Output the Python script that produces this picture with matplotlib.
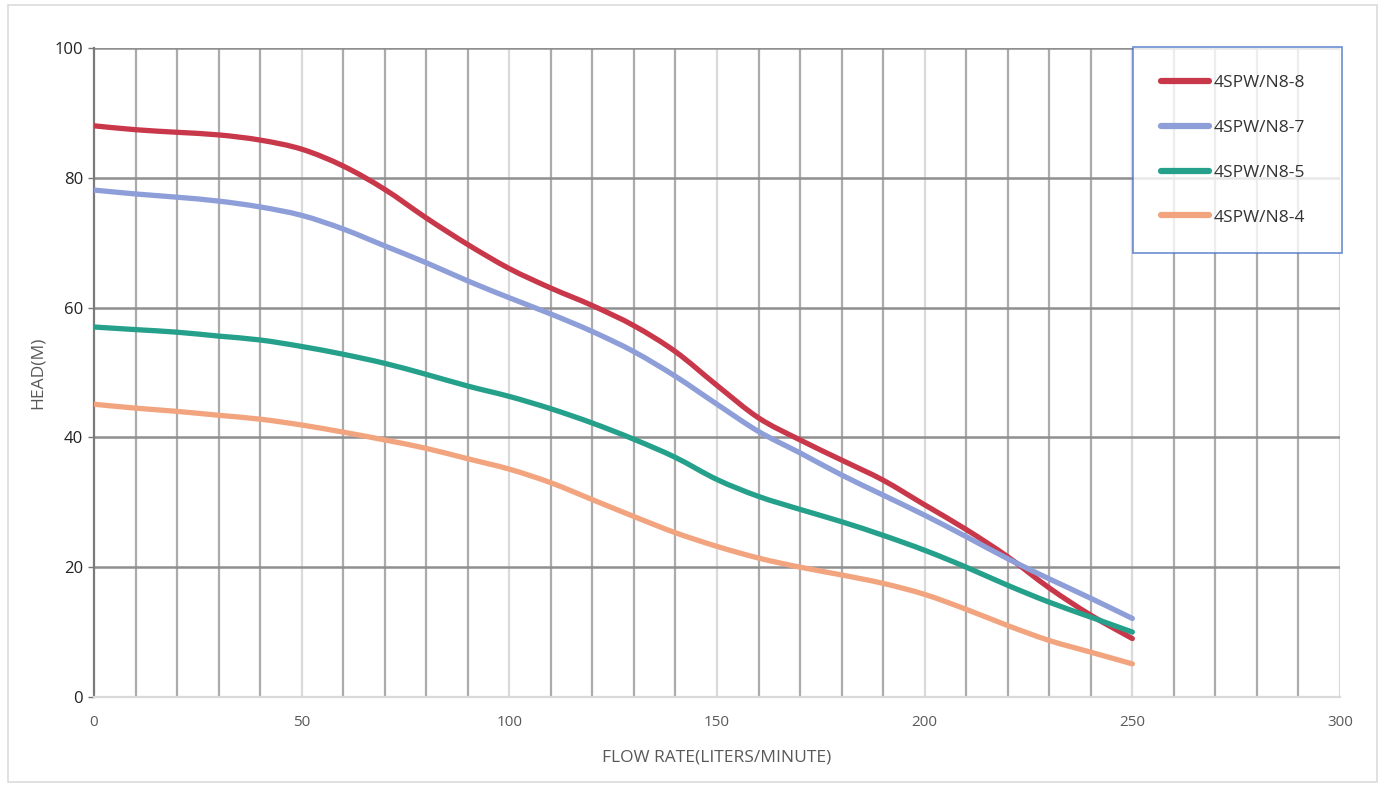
import matplotlib
matplotlib.use("Agg")
import matplotlib.pyplot as plt
from matplotlib.patches import Rectangle, PathPatch
from matplotlib.path import Path
from matplotlib.lines import Line2D

plt.rcParams['font.family'] = ['Open Sans', 'DejaVu Sans']

# flow rate (liters/minute)
flow = [0, 10, 20, 30, 40, 50, 60, 70, 80, 90, 100, 110, 120, 130,
        140, 150, 160, 170, 180, 190, 200, 210, 220, 230, 240, 250]

# head (m) per model
head_n8_8 = [88.0, 87.4, 87.0, 86.6, 85.8, 84.4, 81.8, 78.2, 73.8, 69.7, 66.0, 63.0, 60.3, 57.2,
             53.2, 48.0, 43.0, 39.6, 36.5, 33.4, 29.6, 25.8, 21.6, 16.8, 12.6, 9.0]
head_n8_7 = [78.1, 77.5, 77.0, 76.4, 75.5, 74.2, 72.1, 69.5, 66.9, 64.1, 61.5, 59.0, 56.3, 53.2,
             49.4, 45.1, 40.9, 37.6, 34.2, 31.1, 28.0, 24.7, 21.3, 18.2, 15.2, 12.1]
head_n8_5 = [57.0, 56.6, 56.2, 55.6, 55.0, 54.0, 52.8, 51.4, 49.7, 47.9, 46.3, 44.4, 42.2, 39.7,
             36.9, 33.5, 30.9, 28.9, 27.0, 24.9, 22.6, 20.0, 17.2, 14.6, 12.3, 10.0]
head_n8_4 = [45.1, 44.5, 44.0, 43.4, 42.8, 41.9, 40.8, 39.6, 38.3, 36.7, 35.1, 33.0, 30.4, 27.8,
             25.3, 23.2, 21.4, 20.0, 18.8, 17.5, 15.8, 13.5, 11.0, 8.7, 6.9, 5.1]

labels = ['4SPW/N8-8', '4SPW/N8-7', '4SPW/N8-5', '4SPW/N8-4']
colors = ['#c8384a', '#8e9ed9', '#24a08b', '#f2a47f']


def smooth_path(xs, ys):
    # excel-like smoothed line: bezier segments through the data points
    pts = list(zip(xs, ys))
    verts = [pts[0]]
    codes = [Path.MOVETO]
    n = len(pts)
    for i in range(n - 1):
        p0 = pts[max(i - 1, 0)]
        p1 = pts[i]
        p2 = pts[i + 1]
        p3 = pts[min(i + 2, n - 1)]
        c1 = (p1[0] + (p2[0] - p0[0]) / 6, p1[1] + (p2[1] - p0[1]) / 6)
        c2 = (p2[0] - (p3[0] - p1[0]) / 6, p2[1] - (p3[1] - p1[1]) / 6)
        verts += [c1, c2, p2]
        codes += [Path.CURVE4] * 3
    return Path(verts, codes)


fig = plt.figure(figsize=(13.85, 7.87), dpi=100)
fig.patches.append(Rectangle((0.006, 0.006), 0.988, 0.988, transform=fig.transFigure,
                             fill=False, edgecolor='#dcdcdc', linewidth=1.2))

ax = fig.add_axes([0.0679, 0.1144, 0.8996, 0.8247])

# grid: every 10 on x (multiples of 50 lighter), every 20 on y
for xv in range(10, 301, 10):
    c = '#dadada' if xv % 50 == 0 else '#ababab'
    ax.axvline(xv, color=c, linewidth=1.6, zorder=1)
for yv in range(20, 101, 20):
    ax.axhline(yv, color='#8f8f8f', linewidth=1.8, zorder=1)

handles = []
for ys, lab, col in zip([head_n8_8, head_n8_7, head_n8_5, head_n8_4], labels, colors):
    ax.add_patch(PathPatch(smooth_path(flow, ys), facecolor='none', edgecolor=col,
                           linewidth=3.8, capstyle='round', zorder=3))
    handles.append(Line2D([], [], color=col, linewidth=4.5, solid_capstyle='round', label=lab))

ax.set_xlim(0, 300)
ax.set_ylim(0, 100)
ax.set_xticks(range(0, 301, 50))
ax.set_yticks(range(0, 101, 20))
ax.tick_params(axis='x', length=0, pad=13, labelsize=11, labelcolor='#595959')
ax.tick_params(axis='y', length=4, width=1, color='#777777', pad=4, labelsize=12, labelcolor='#222222')

for s in ['top', 'right']:
    ax.spines[s].set_visible(False)
ax.spines['left'].set_color('#7a7a7a')
ax.spines['left'].set_linewidth(1.6)
ax.spines['bottom'].set_color('#d9d9d9')
ax.spines['bottom'].set_linewidth(1.6)

ax.set_xlabel('FLOW RATE(LITERS/MINUTE)', fontsize=12.5, color='#595959', labelpad=14)
ax.set_ylabel('HEAD(M)', fontsize=12.5, color='#595959', labelpad=6)

leg = ax.legend(handles=handles, loc='upper left', bbox_to_anchor=(0.818, 0.940, 0.151, 0.0),
                bbox_transform=fig.transFigure, mode='expand', borderaxespad=0,
                fontsize=12.5, frameon=True, fancybox=False, handlelength=2.8,
                handletextpad=0.25, labelspacing=1.65, borderpad=1.6)
leg.get_frame().set_edgecolor('#4472c4')
leg.get_frame().set_linewidth(1.2)
for t in leg.get_texts():
    t.set_color('#333333')

fig.savefig('out.png', dpi=100)
